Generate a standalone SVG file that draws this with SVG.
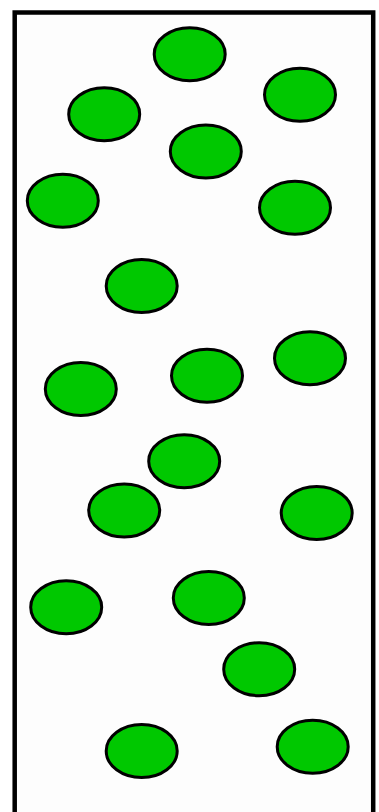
<svg xmlns="http://www.w3.org/2000/svg" width="379" height="812" viewBox="0 0 379 812">
<style>
.box{fill:#fdfdfd;stroke:#000;stroke-width:4.5}
.c{fill:#00c800;stroke:#000;stroke-width:3}
</style>
<rect width="379" height="812" fill="#fff"/>
<rect class="box" x="14.7" y="12.5" width="358.5" height="820"/>
<g id="cells">
<ellipse class="c" cx="189.7" cy="54.2" rx="35.5" ry="26.5"/>
<ellipse class="c" cx="300" cy="94.7" rx="35.5" ry="26.5"/>
<ellipse class="c" cx="104.2" cy="114.2" rx="35.5" ry="26.5"/>
<ellipse class="c" cx="205.8" cy="151.5" rx="35.5" ry="26.5"/>
<ellipse class="c" cx="62.8" cy="200.8" rx="35.5" ry="26.5"/>
<ellipse class="c" cx="295" cy="207.7" rx="35.5" ry="26.5"/>
<ellipse class="c" cx="141.7" cy="286" rx="35.5" ry="26.5"/>
<ellipse class="c" cx="310" cy="358.3" rx="35.5" ry="26.5"/>
<ellipse class="c" cx="207" cy="375.8" rx="35.5" ry="26.5"/>
<ellipse class="c" cx="80.8" cy="389" rx="35.5" ry="26.5"/>
<ellipse class="c" cx="184.2" cy="461.3" rx="35.5" ry="26.5"/>
<ellipse class="c" cx="124.2" cy="510.5" rx="35.5" ry="26.5"/>
<ellipse class="c" cx="316.7" cy="513" rx="35.5" ry="26.5"/>
<ellipse class="c" cx="66.2" cy="607.2" rx="35.5" ry="26.5"/>
<ellipse class="c" cx="208.8" cy="598" rx="35.5" ry="26.5"/>
<ellipse class="c" cx="259.2" cy="669.2" rx="35.5" ry="26.5"/>
<ellipse class="c" cx="141.7" cy="751" rx="35.5" ry="26.5"/>
<ellipse class="c" cx="312.7" cy="746.7" rx="35.5" ry="26.5"/>
</g>
</svg>
